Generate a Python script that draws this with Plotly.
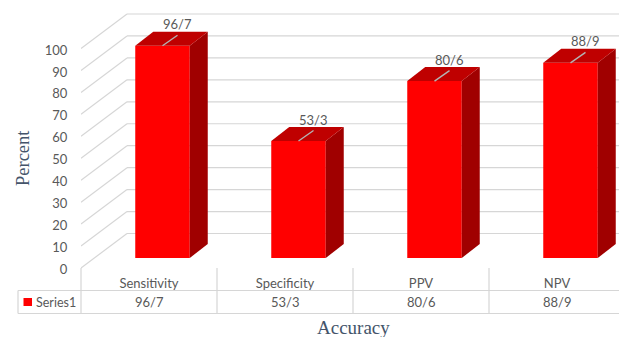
import plotly.graph_objects as go

# Chart content
categories = ["Sensitivity", "Specificity", "PPV", "NPV"]
values = [96.7, 53.3, 80.6, 88.9]
value_labels = ["96/7", "53/3", "80/6", "88/9"]
y_ticks = [0, 10, 20, 30, 40, 50, 60, 70, 80, 90, 100]
series_name = "Series1"

# Figure and plot geometry, in pixels
W, H = 619, 337
PLOT_LEFT, PLOT_BOTTOM = 81, 269.5
FLOOR_FRONT = 268
CAT_PX = 136.0
UNIT_PX = 2.195

# Oblique projection used for the 3D look
FRONT_LIFT = (PLOT_BOTTOM - FLOOR_FRONT) / UNIT_PX
WALL_DX, WALL_DY = 46 / CAT_PX, 34.5 / UNIT_PX
BAR_SHIFT_X, BAR_BASE = 13.5 / CAT_PX, FRONT_LIFT + 10 / UNIT_PX
BAR_WIDTH = 54.5 / CAT_PX
DEPTH_X, DEPTH_Y = 18 / CAT_PX, 14 / UNIT_PX
LEADER_X, LEADER_Y = 15 / CAT_PX, 10.5 / UNIT_PX

X_MAX = (W - PLOT_LEFT) / CAT_PX
Y_MAX = PLOT_BOTTOM / UNIT_PX

GRID = "#d6d6d6"
TEXT = "#595959"
TITLE = "#44546a"
SANS = "Lato"
SERIF = "Liberation Serif"

fig = go.Figure()

centers = [i + 0.5 + BAR_SHIFT_X for i in range(len(categories))]

# Front faces
fig.add_trace(go.Bar(
    x=centers, y=values, base=BAR_BASE, width=BAR_WIDTH,
    marker=dict(color="#ff0000", line=dict(width=0)),
    hoverinfo="skip", showlegend=False,
))

# Top and side faces, plus the leader line of each value label
for cx, v in zip(centers, values):
    left, right = cx - BAR_WIDTH / 2, cx + BAR_WIDTH / 2
    top = BAR_BASE + v
    fig.add_trace(go.Scatter(
        x=[right, right + DEPTH_X, right + DEPTH_X, right, right],
        y=[BAR_BASE, BAR_BASE + DEPTH_Y, top + DEPTH_Y, top, BAR_BASE],
        mode="lines", fill="toself", fillcolor="#a00000",
        line=dict(width=0), hoverinfo="skip", showlegend=False,
    ))
    fig.add_trace(go.Scatter(
        x=[left, right, right + DEPTH_X, left + DEPTH_X, left],
        y=[top, top, top + DEPTH_Y, top + DEPTH_Y, top],
        mode="lines", fill="toself", fillcolor="#bf0000",
        line=dict(width=0), hoverinfo="skip", showlegend=False,
    ))
    fig.add_trace(go.Scatter(
        x=[cx, cx + LEADER_X], y=[top, top + LEADER_Y],
        mode="lines", line=dict(color="#b4b4b4", width=1.4),
        hoverinfo="skip", showlegend=False,
    ))

shapes = []
annotations = []

# Back wall gridlines and the diagonals running to the front edge
for t in y_ticks:
    front = t + FRONT_LIFT
    shapes.append(dict(type="line", layer="below", xref="x", yref="y",
                       x0=0, y0=front, x1=WALL_DX, y1=front + WALL_DY,
                       line=dict(color=GRID, width=1.2)))
    shapes.append(dict(type="line", layer="below", xref="x", yref="y",
                       x0=WALL_DX, y0=front + WALL_DY, x1=X_MAX, y1=front + WALL_DY,
                       line=dict(color=GRID, width=1.2)))


def py(px):
    """Paper y coordinate for a pixel row."""
    return 1 - px / H


def px(p):
    """Paper x coordinate for a pixel column."""
    return p / W


# Data table under the plot
ROW_1, ROW_2 = 290.5, 313.5
for row, start in ((ROW_1, 18), (ROW_2, 18)):
    shapes.append(dict(type="line", xref="paper", yref="paper",
                       x0=px(start), x1=1, y0=py(row), y1=py(row),
                       line=dict(color=GRID, width=1.2)))
shapes.append(dict(type="line", xref="paper", yref="paper",
                   x0=px(18), x1=px(18), y0=py(ROW_1), y1=py(ROW_2),
                   line=dict(color=GRID, width=1.2)))
for i in range(len(categories)):
    edge = px(PLOT_LEFT + i * CAT_PX)
    shapes.append(dict(type="line", xref="paper", yref="paper",
                       x0=edge, x1=edge, y0=py(FLOOR_FRONT), y1=py(ROW_2),
                       line=dict(color=GRID, width=1.2)))

# Legend key in the table's first column
shapes.append(dict(type="rect", xref="paper", yref="paper",
                   x0=px(23.5), x1=px(32), y0=py(298), y1=py(306),
                   fillcolor="#ff0000", line=dict(width=0)))
annotations.append(dict(text=series_name, xref="paper", yref="paper",
                        x=px(33.5), y=py(302), xanchor="left", yanchor="middle",
                        showarrow=False, font=dict(family=SANS, size=12.5, color=TEXT)))

# Axis titles
annotations.append(dict(text="Percent", xref="paper", yref="paper",
                        x=px(22.5), y=py(158.5), xanchor="center", yanchor="middle",
                        textangle=-90, showarrow=False,
                        font=dict(family=SERIF, size=18.5, color=TITLE)))
annotations.append(dict(text="Accuracy", xref="paper", yref="paper",
                        x=px(353), y=py(327), xanchor="center", yanchor="middle",
                        showarrow=False,
                        font=dict(family=SERIF, size=19, color=TITLE)))

for i, (cx, v, label) in enumerate(zip(centers, values, value_labels)):
    # Label above the bar
    annotations.append(dict(text=label, xref="x", yref="y",
                            x=cx + LEADER_X, y=BAR_BASE + v + LEADER_Y,
                            xanchor="center", yanchor="bottom", yshift=2,
                            showarrow=False, borderpad=0,
                            font=dict(family=SANS, size=13, color=TEXT)))
    # Same value in the table row
    annotations.append(dict(text=label, xref="x", yref="paper",
                            x=i + 0.5, y=py(302), xanchor="center", yanchor="middle",
                            showarrow=False,
                            font=dict(family=SANS, size=13, color=TEXT)))

fig.update_layout(
    width=W, height=H,
    margin=dict(l=0, r=0, t=0, b=0),
    paper_bgcolor="white", plot_bgcolor="white",
    shapes=shapes, annotations=annotations,
    showlegend=False,
    xaxis=dict(
        domain=[PLOT_LEFT / W, 1], range=[0, X_MAX],
        tickmode="array", tickvals=[i + 0.5 for i in range(len(categories))],
        ticktext=categories, ticks="outside", ticklen=2, tickcolor="rgba(0,0,0,0)",
        tickfont=dict(family=SANS, size=13, color=TEXT),
        showgrid=False, zeroline=False, showline=False, fixedrange=True,
        automargin=False,
    ),
    yaxis=dict(
        domain=[1 - PLOT_BOTTOM / H, 1], range=[0, Y_MAX],
        tickmode="array", tickvals=y_ticks, ticks="outside", ticklen=10,
        tickcolor="rgba(0,0,0,0)",
        tickfont=dict(family=SANS, size=13, color=TEXT),
        showgrid=False, zeroline=False, showline=False, fixedrange=True,
        automargin=False,
    ),
)

fig.write_html("out.html", config=dict(displayModeBar=False))
